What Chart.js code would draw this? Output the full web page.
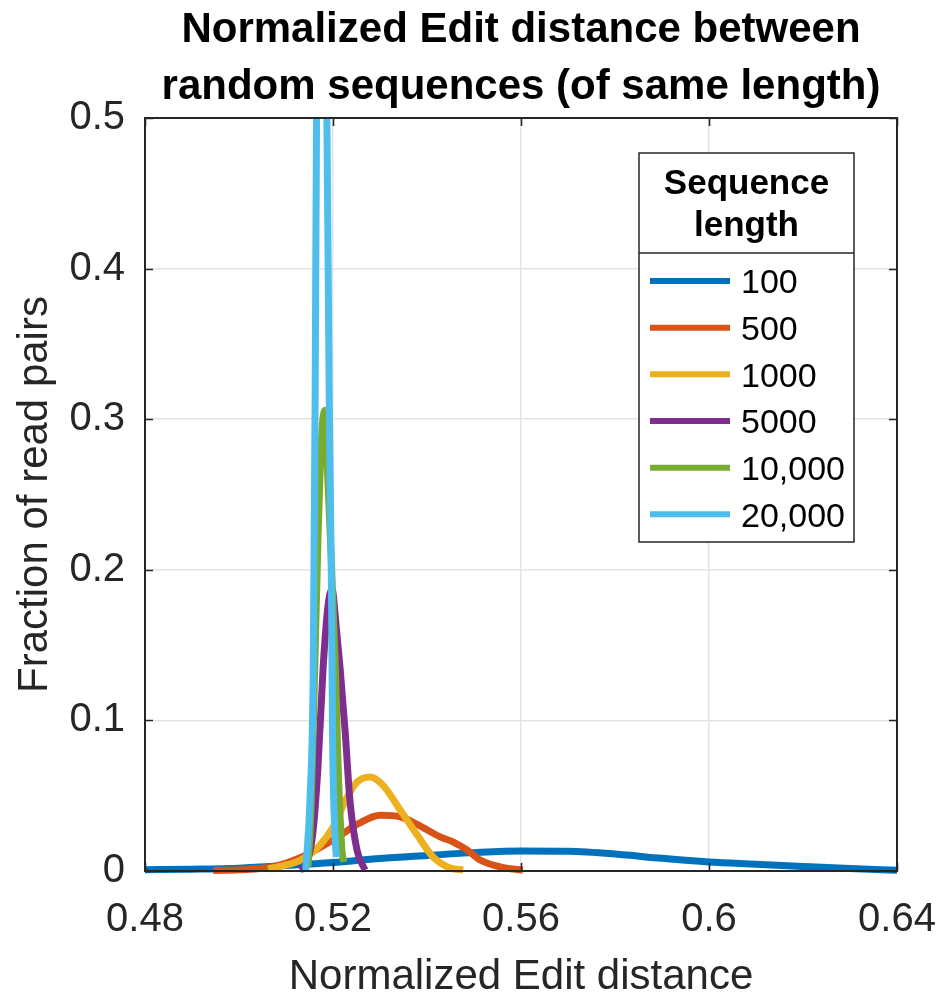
<!DOCTYPE html>
<html><head><meta charset="utf-8">
<script src="https://cdn.jsdelivr.net/npm/chart.js@4/dist/chart.umd.min.js"></script>
<style>html,body{margin:0;padding:0;background:#fff;overflow:hidden}#wrap{width:940px;height:996px}</style>
</head><body><div id="wrap"><canvas id="c" width="940" height="996"></canvas></div>
<script>
// ---- data ----
const seriesLabels = ['100', '500', '1000', '5000', '10,000', '20,000'];
const seriesColors = ['#0072BD', '#D95319', '#EDB120', '#7E2F8E', '#77AC30', '#4DBEEE'];
const xTicks = [0.48, 0.52, 0.56, 0.6, 0.64];
const yTicks = [0, 0.1, 0.2, 0.3, 0.4, 0.5];
const titleLines = ['Normalized Edit distance between', 'random sequences (of same length)'];
const xAxisTitle = 'Normalized Edit distance';
const yAxisTitle = 'Fraction of read pairs';
const legendTitle = ['Sequence', 'length'];

const len100X = [0.48, 0.49, 0.50, 0.51, 0.52, 0.53, 0.54, 0.55, 0.56, 0.57, 0.58, 0.59, 0.60, 0.61, 0.62, 0.63, 0.64];
const len100Y = [0.0008, 0.0012, 0.0019, 0.0036, 0.0056, 0.0083, 0.0103, 0.0122, 0.0133, 0.0131, 0.0113, 0.0084, 0.0060, 0.0045, 0.0030, 0.0016, 0.0005];
const len500X = [0.4945, 0.5002, 0.5072, 0.5130, 0.5200, 0.5257, 0.5300, 0.5343, 0.5379, 0.5428, 0.5455, 0.5485, 0.5513, 0.5555, 0.5604];
const len500Y = [0.0003, 0.0008, 0.0028, 0.0088, 0.0206, 0.0320, 0.0370, 0.0360, 0.0310, 0.0227, 0.0194, 0.0140, 0.0073, 0.0028, 0.0005];
const len1000X = [0.5062, 0.5130, 0.5166, 0.5200, 0.5230, 0.5251, 0.5279, 0.5306, 0.5343, 0.5379, 0.5413, 0.5449, 0.5477];
const len1000Y = [0.0013, 0.0070, 0.0150, 0.0290, 0.0490, 0.0590, 0.0624, 0.0570, 0.0405, 0.0240, 0.0093, 0.0020, 0.0007];
const len5000X = [0.5130, 0.5140, 0.5157, 0.5168, 0.5179, 0.5189, 0.5198, 0.5206, 0.5215, 0.5226, 0.5236, 0.5251, 0.5268];
const len5000Y = [0.0007, 0.003, 0.025, 0.069, 0.135, 0.175, 0.187, 0.165, 0.135, 0.092, 0.047, 0.014, 0.0007];
const len10000X = [0.5147, 0.5153, 0.5160, 0.5168, 0.5176, 0.5183, 0.5188, 0.5197, 0.5205, 0.5211, 0.5219, 0.5223];
const len10000Y = [0.003, 0.040, 0.120, 0.220, 0.290, 0.306, 0.268, 0.202, 0.134, 0.069, 0.014, 0.006];
const len20000X = [0.5142, 0.5151, 0.5158, 0.5162, 0.5165, 0.5176, 0.5187, 0.5192, 0.5197, 0.5199, 0.5204, 0.5208];
const len20000Y = [0.0007, 0.047, 0.135, 0.313, 0.50, 0.72, 0.50, 0.313, 0.18, 0.092, 0.025, 0.0093];

const seriesX = [len100X, len500X, len1000X, len5000X, len10000X, len20000X];
const seriesY = [len100Y, len500Y, len1000Y, len5000Y, len10000Y, len20000Y];

// ---- chart ----
const AX = '#262626';
const FONT = '"Liberation Sans", Arial, Helvetica, sans-serif';

const datasets = seriesLabels.map((lab, i) => ({
  label: lab,
  data: seriesX[i].map((x, j) => ({ x: x, y: seriesY[i][j] })),
  borderColor: seriesColors[i],
  backgroundColor: seriesColors[i],
  borderWidth: 7,
  pointRadius: 0,
  fill: false,
  order: seriesLabels.length - i,
  cubicInterpolationMode: 'monotone',
  clip: { left: 0, right: 0, top: 0, bottom: 4 }
}));

const framePlugin = {
  id: 'frame',
  afterDatasetsDraw(chart) {
    const { ctx, chartArea: a, scales } = chart;
    ctx.save();
    ctx.strokeStyle = AX;
    ctx.lineWidth = 1.6;
    const L = 8;
    ctx.beginPath();
    scales.x.ticks.forEach(t => {
      const px = Math.round(scales.x.getPixelForValue(t.value)) + 0.5;
      ctx.moveTo(px, a.bottom); ctx.lineTo(px, a.bottom - L);
      ctx.moveTo(px, a.top); ctx.lineTo(px, a.top + L);
    });
    scales.y.ticks.forEach(t => {
      const py = Math.round(scales.y.getPixelForValue(t.value)) + 0.5;
      ctx.moveTo(a.left, py); ctx.lineTo(a.left + L, py);
      ctx.moveTo(a.right, py); ctx.lineTo(a.right - L, py);
    });
    ctx.stroke();
    ctx.lineWidth = 2;
    ctx.strokeRect(a.left, a.top, a.right - a.left, a.bottom - a.top);
    ctx.restore();
  }
};

const legendPlugin = {
  id: 'boxLegend',
  afterDraw(chart) {
    const { ctx, chartArea: a } = chart;
    const x0 = a.right - 258, y0 = a.top + 35, w = 215, h = 389;
    ctx.save();
    ctx.fillStyle = '#fff';
    ctx.fillRect(x0, y0, w, h);
    ctx.strokeStyle = AX;
    ctx.lineWidth = 1.5;
    ctx.strokeRect(x0, y0, w, h);
    ctx.beginPath();
    ctx.moveTo(x0, y0 + 100); ctx.lineTo(x0 + w, y0 + 100);
    ctx.stroke();
    ctx.fillStyle = '#000';
    ctx.font = 'bold 35px ' + FONT;
    ctx.textAlign = 'center';
    ctx.textBaseline = 'middle';
    legendTitle.forEach((t, i) => ctx.fillText(t, x0 + w / 2, y0 + 31 + i * 42));
    ctx.font = '34px ' + FONT;
    ctx.textAlign = 'left';
    chart.data.datasets.forEach((ds, i) => {
      const yy = y0 + 128 + i * 46.67;
      ctx.strokeStyle = ds.borderColor;
      ctx.lineWidth = 6;
      ctx.beginPath();
      ctx.moveTo(x0 + 11, yy); ctx.lineTo(x0 + 91, yy);
      ctx.stroke();
      ctx.fillStyle = '#000';
      ctx.fillText(ds.label, x0 + 102, yy + 3);
    });
    ctx.restore();
  }
};

new Chart(document.getElementById('c'), {
  type: 'line',
  data: { datasets: datasets },
  plugins: [framePlugin, legendPlugin],
  options: {
    responsive: false,
    devicePixelRatio: 1,
    animation: false,
    events: [],
    layout: { padding: { left: 0, right: 43, top: 0, bottom: 0 } },
    plugins: {
      legend: { display: false },
      tooltip: { enabled: false },
      title: {
        display: true,
        fullSize: false,
        text: titleLines,
        color: '#000',
        font: { family: FONT, size: 42, weight: 'bold', lineHeight: '57px' },
        padding: { top: 2, bottom: 2 }
      }
    },
    scales: {
      x: {
        type: 'linear',
        min: 0.48, max: 0.64,
        afterBuildTicks: s => { s.ticks = xTicks.map(v => ({ value: v })); },
        afterFit: s => { s.height = 125; s.paddingLeft = 0; s.paddingRight = 0; },
        ticks: {
          color: AX, padding: 25,
          font: { family: FONT, size: 40 },
          callback: v => String(+v.toFixed(2))
        },
        grid: { color: '#e3e3e3', lineWidth: 1.5, drawTicks: false },
        border: { display: false },
        title: {
          display: true, text: xAxisTitle, color: AX,
          font: { family: FONT, size: 42, lineHeight: 1 },
          padding: { top: 0, bottom: -2 }
        }
      },
      y: {
        type: 'linear',
        min: 0, max: 0.5,
        afterBuildTicks: s => { s.ticks = yTicks.map(v => ({ value: v })); },
        afterFit: s => { s.width = 145; s.paddingTop = 0; s.paddingBottom = 0; },
        ticks: {
          color: AX, padding: 20,
          font: { family: FONT, size: 40 },
          callback: v => String(+v.toFixed(1))
        },
        grid: { color: '#e3e3e3', lineWidth: 1.5, drawTicks: false },
        border: { display: false },
        title: {
          display: true, text: yAxisTitle, color: AX,
          font: { family: FONT, size: 42, lineHeight: 1 },
          padding: { top: 14, bottom: 0 }
        }
      }
    }
  }
});
</script>
</body></html>
